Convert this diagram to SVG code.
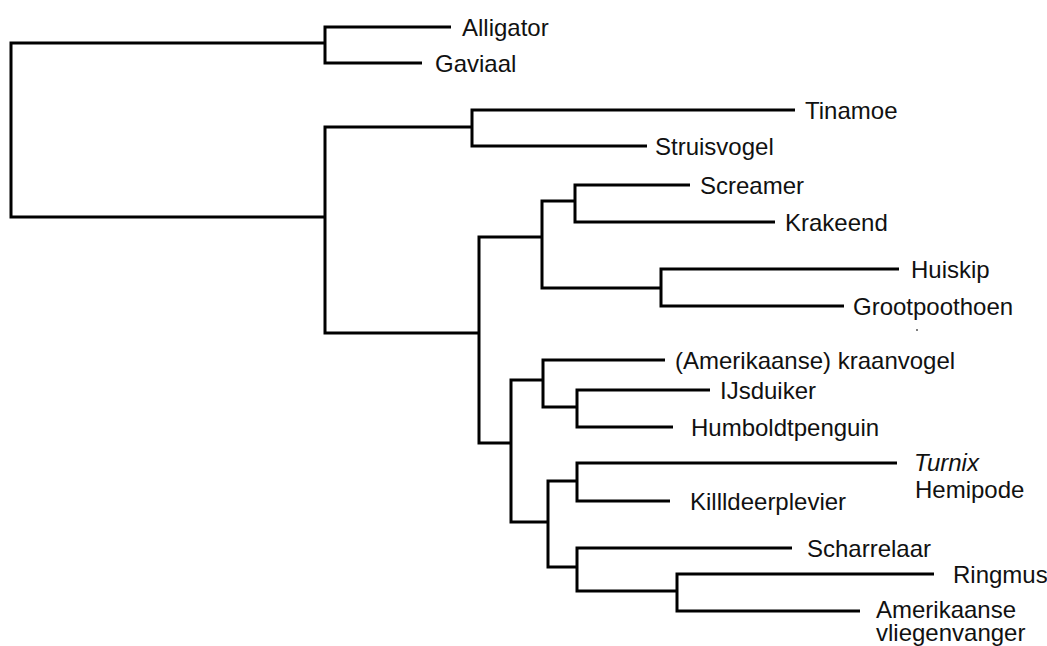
<svg xmlns="http://www.w3.org/2000/svg" width="1047" height="646" viewBox="0 0 1047 646">
<style>
.e{fill:none;stroke:#000;stroke-width:3;stroke-linejoin:miter;stroke-linecap:butt}
.t{font-family:"Liberation Sans",Arial,sans-serif;font-size:24px;fill:#111}
.i{font-style:italic}
</style>
<rect width="1047" height="646" fill="#fff"/>
<g id="connectors">
<path class="e" d="M325 43H11V217H325"/>
<path class="e" d="M451 27H325V63H422"/>
<path class="e" d="M472 127H325V333H479"/>
<path class="e" d="M795 110H472V146H647"/>
<path class="e" d="M542 237H479V443H511"/>
<path class="e" d="M575 201H542V288H661"/>
<path class="e" d="M690 185H575V222H775"/>
<path class="e" d="M899 269H661V306H844"/>
<path class="e" d="M543 380H511V522H548"/>
<path class="e" d="M665 360H543V407H577"/>
<path class="e" d="M710 390H577V427H673"/>
<path class="e" d="M577 481H548V567H577"/>
<path class="e" d="M897 463H577V501H670"/>
<path class="e" d="M792 548H577V591H677"/>
<path class="e" d="M934 574H677V611H860"/>
</g>
<g id="alligator"><text class="t" x="462" y="35.5">Alligator</text></g>
<g id="gaviaal"><text class="t" x="435" y="71.5">Gaviaal</text></g>
<g id="tinamoe"><text class="t" x="805" y="118.5">Tinamoe</text></g>
<g id="struisvogel"><text class="t" x="655" y="154.5">Struisvogel</text></g>
<g id="screamer"><text class="t" x="700" y="193.5">Screamer</text></g>
<g id="krakeend"><text class="t" x="785" y="230.5">Krakeend</text></g>
<g id="huiskip"><text class="t" x="911" y="277.5">Huiskip</text></g>
<g id="grootpoothoen"><text class="t" x="853" y="314.5">Grootpoothoen</text><circle cx="917" cy="330" r="1" fill="#555"/></g>
<g id="kraanvogel"><text class="t" x="675" y="368.5">(Amerikaanse) kraanvogel</text></g>
<g id="ijsduiker"><text class="t" x="720" y="398.5">IJsduiker</text></g>
<g id="humboldtpenguin"><text class="t" x="691" y="435.5">Humboldtpenguin</text></g>
<g id="turnix"><text class="t" x="914" y="471"><tspan class="i">Turnix</tspan><tspan x="915" y="498">Hemipode</tspan></text></g>
<g id="killdeerplevier"><text class="t" x="690" y="509.5">Killldeerplevier</text></g>
<g id="scharrelaar"><text class="t" x="807" y="556.5">Scharrelaar</text></g>
<g id="ringmus"><text class="t" x="953" y="582.5">Ringmus</text></g>
<g id="vliegenvanger"><text class="t" x="876" y="618">Amerikaanse<tspan x="876" y="640.5">vliegenvanger</tspan></text></g>
</svg>
